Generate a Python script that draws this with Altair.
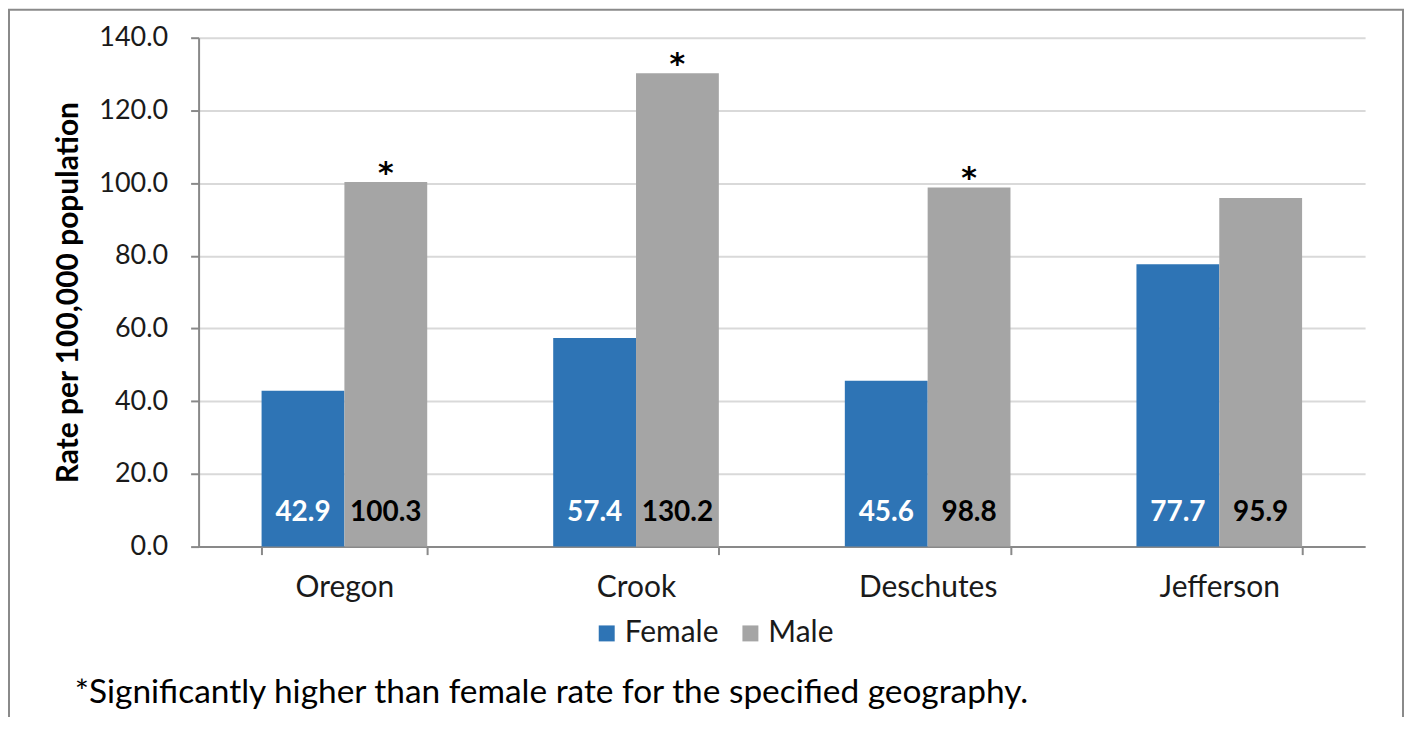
import altair as alt
import pandas as pd

geos = ["Oregon", "Crook", "Deschutes", "Jefferson"]
female = [42.9, 57.4, 45.6, 77.7]
male = [100.3, 130.2, 98.8, 95.9]
significant = ["*", "*", "*", ""]
sexes = ["Female", "Male"]
colors = ["#2E74B5", "#A5A5A5"]
y_ticks = [0, 20, 40, 60, 80, 100, 120, 140]
y_title = "Rate per 100,000 population"
footnote = "*Significantly higher than female rate for the specified geography."

rows = []
for g, f, m, s in zip(geos, female, male, significant):
    rows.append({"geo": g, "sex": "Female", "value": f, "star": ""})
    rows.append({"geo": g, "sex": "Male", "value": m, "star": s})
df = pd.DataFrame(rows)

FONT = "Lato"
W, H = 1169, 510

x = alt.X("geo:N", sort=geos, title=None,
          scale=alt.Scale(paddingInner=0.432, paddingOuter=0.216),
          axis=alt.Axis(labelFontSize=30, labelColor="#1a1a1a", labelAngle=0,
                        labelPadding=18, tickBand="extent", tickSize=8,
                        tickColor="#898989", tickWidth=2,
                        domainColor="#898989", domainWidth=2, grid=False))
xo = alt.XOffset("sex:N", sort=sexes, scale=alt.Scale(paddingInner=0, paddingOuter=0))
y = alt.Y("value:Q", scale=alt.Scale(domain=[0, 140], nice=False),
          axis=alt.Axis(values=y_ticks, format=".1f", title=y_title,
                        labelFontSize=27, labelColor="#1a1a1a", labelPadding=23,
                        tickSize=8, tickColor="#898989", tickWidth=2,
                        domainColor="#898989", domainWidth=2,
                        gridColor="#d9d9d9", gridWidth=2,
                        titleFontSize=30, titleFontWeight="bold", titleColor="#000000",
                        titleAngle=-90, titleX=-130, titleY=255,
                        titleAlign="center", titleBaseline="middle"))

bars = alt.Chart(df).mark_bar().encode(
    x=x, xOffset=xo, y=y,
    color=alt.Color("sex:N", sort=sexes,
                    scale=alt.Scale(domain=sexes, range=colors),
                    legend=alt.Legend(title=None, orient="none", direction="horizontal",
                                      legendX=394, legendY=582, symbolType="square",
                                      symbolSize=256, symbolStrokeWidth=0,
                                      labelFontSize=30, labelColor="#1a1a1a",
                                      labelOffset=3, columnPadding=16)),
)

labels = alt.Chart(df).mark_text(fontSize=28, fontWeight="bold", baseline="middle",
                                 dy=-34, font=FONT).encode(
    x=alt.X("geo:N", sort=geos), xOffset=alt.XOffset("sex:N", sort=sexes),
    y=alt.datum(0),
    text=alt.Text("value:Q", format=".1f"),
    color=alt.condition(alt.datum.sex == "Female", alt.value("white"), alt.value("black")),
)

stars = alt.Chart(df).mark_text(fontSize=30, fontWeight="bold", baseline="alphabetic",
                                dy=1, font="DejaVu Sans", color="black").encode(
    x=alt.X("geo:N", sort=geos), xOffset=alt.XOffset("sex:N", sort=sexes),
    y="value:Q",
    text="star:N",
)

note = alt.Chart(pd.DataFrame({"t": [footnote]})).mark_text(
    fontSize=33.5, align="left", baseline="middle", font=FONT, color="#000000").encode(
    x=alt.value(-124), y=alt.value(657), text="t:N")

frame = alt.Chart(pd.DataFrame({"a": [0]})).mark_rect(
    fill="transparent", stroke="#8a8a8a", strokeWidth=2).encode(
    x=alt.value(-190), x2=alt.value(1207), y=alt.value(-28), y2=alt.value(720))

chart = alt.layer(bars, labels, stars, note, frame).properties(
    width=W, height=H,
    autosize=alt.AutoSizeParams(type="none"),
    padding={"left": 191, "top": 29, "right": 39, "bottom": 170},
).configure(font=FONT).configure_view(stroke=None)

chart.save("out.html", embed_options={"renderer": "svg", "actions": False})
